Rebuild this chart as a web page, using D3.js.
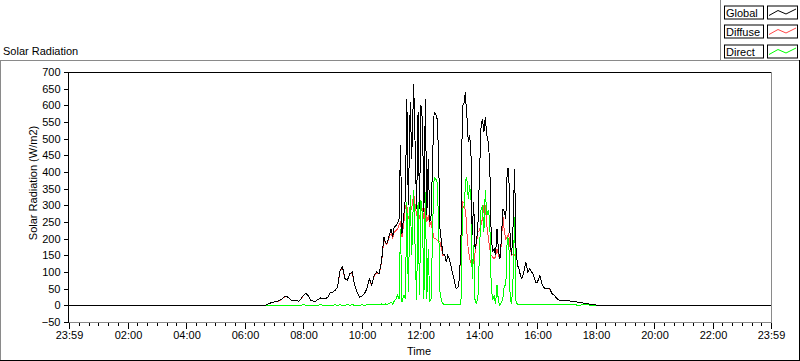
<!DOCTYPE html>
<html>
<head>
<meta charset="utf-8">
<script src="https://cdn.jsdelivr.net/npm/d3@7"></script>
<style>
  html, body { margin: 0; padding: 0; background: #fff; }
  svg text { font-family: "Liberation Sans", Arial, sans-serif; font-size: 11px; fill: #000; }
</style>
</head>
<body>
<svg id="chart" width="800" height="361"></svg>
<script>
// ---------- data ----------
const times = [
  "00:00","01:00","02:00","03:00","04:00","05:00","06:00","06:40","06:45","06:50","06:55",
  "07:00","07:05","07:10","07:15","07:20","07:25","07:30","07:35","07:40","07:45","07:50","07:55",
  "08:00","08:05","08:10","08:15","08:20","08:25","08:30","08:35","08:40","08:45","08:50","08:55",
  "09:00","09:05","09:10","09:15","09:20","09:25","09:30","09:35","09:40","09:45","09:50","09:55",
  "10:00","10:05","10:10","10:15","10:20","10:25","10:30","10:35","10:40","10:45","10:48","10:51","10:54","10:57",
  "11:00","11:03","11:06","11:10","11:13","11:16","11:19","11:22","11:26","11:29","11:32","11:35","11:39","11:42","11:46","11:49","11:52","11:55","11:58",
  "12:01","12:04","12:07","12:10","12:13","12:16","12:19","12:22","12:25","12:28","12:31","12:34","12:37","12:40","12:43","12:46","12:50","12:53","12:56","12:59",
  "13:03","13:06","13:10","13:13","13:17","13:20","13:23","13:25","13:27","13:30","13:32","13:34","13:36","13:38","13:41","13:44","13:46","13:49","13:52","13:55","13:58",
  "14:01","14:04","14:07","14:10","14:13","14:16","14:19","14:22","14:25","14:28","14:31","14:34","14:37","14:40","14:43","14:46","14:49","14:52","14:55","14:58",
  "15:01","15:04","15:07","15:10","15:13","15:16","15:19","15:22","15:25","15:28","15:32","15:36","15:40","15:44","15:48","15:52","15:56",
  "16:00","16:05","16:10","16:15","16:20","16:25","16:30","16:35","16:40","16:45","16:50","16:55",
  "17:00","17:10","17:20","17:30","17:40","17:50","18:00","18:10","19:00","20:00","21:00","22:00","23:00","23:59"
];
const globalVals = [
  -1,-1,-1,-1,-1,-1,-1,0,2,6,8,
  10,12,14,18,25,27,22,15,13,15,12,20,
  30,37,28,15,13,12,18,22,20,20,25,38,
  40,45,55,105,115,80,75,95,100,60,40,25,
  28,35,50,80,60,90,100,95,130,205,190,185,200,215,
  230,205,235,240,245,260,480,215,275,320,620,300,610,440,665,480,290,580,290,
  600,555,280,620,270,440,250,270,450,580,575,560,460,230,190,155,150,130,150,140,
  115,95,70,50,55,80,190,490,600,610,640,590,550,490,510,440,210,310,170,190,250,
  390,530,560,520,565,510,490,430,210,160,170,150,230,160,140,200,290,280,260,410,
  410,190,150,240,410,170,120,110,90,80,100,130,100,110,100,90,70,
  70,90,60,50,50,50,35,30,20,15,13,15,
  15,12,10,8,5,3,1,0,-1,-1,-1,-1,-1,-1
];
const diffuseVals = [
  -1,-1,-1,-1,-1,-1,-1,0,2,6,8,
  10,12,13,18,24,27,22,15,13,15,12,20,
  29,37,28,15,13,12,18,22,20,20,25,38,
  40,45,55,104,113,80,75,95,98,60,40,25,
  28,35,50,78,60,88,97,94,127,200,186,182,196,210,
  215,200,220,225,230,240,250,205,250,300,300,260,280,290,335,300,270,265,260,
  290,290,260,300,250,270,240,250,220,200,200,195,195,190,170,150,150,130,150,140,
  115,95,70,50,55,80,185,290,310,305,280,260,195,170,140,125,125,125,160,190,220,
  225,240,260,300,300,240,205,170,150,145,140,145,170,150,140,190,270,220,200,205,
  215,170,150,155,150,165,120,110,90,80,100,130,100,108,100,90,70,
  70,88,60,50,50,49,35,30,20,15,13,15,
  15,12,10,8,5,3,1,0,-1,-1,-1,-1,-1,-1
];
const directVals = [
  0,0,0,0,0,0,0,0,0,0,0,
  0,0,0,0,0,0,0,0,0,0,0,0,
  2,0,0,0,0,0,0,2,0,0,0,0,
  0,2,0,2,0,0,2,0,2,0,0,0,
  2,0,2,4,2,4,4,2,4,2,4,2,4,6,
  10,4,12,20,30,20,230,10,30,20,310,40,330,150,345,170,15,310,30,
  315,270,20,340,20,170,10,20,240,385,380,370,260,40,15,5,2,2,2,2,
  2,2,2,2,2,2,5,200,290,300,360,385,370,320,360,310,80,180,10,5,30,
  160,285,300,220,345,270,285,260,60,15,30,5,60,10,0,10,20,60,60,205,
  200,20,5,85,265,10,3,2,2,2,2,3,2,2,3,2,2,
  2,2,2,2,2,2,2,2,2,3,2,2,
  2,2,1,1,2,0,0,0,0,0,0,0,0,0
];
const yTicks = [-50,0,50,100,150,200,250,300,350,400,450,500,550,600,650,700];
const xTickLabels = ["23:59","02:00","04:00","06:00","08:00","10:00","12:00","14:00","16:00","18:00","20:00","22:00","23:59"];
const xTickMinutes = [-1,120,240,360,480,600,720,840,960,1080,1200,1320,1439];
const seriesNames = ["Global","Diffuse","Direct"];
const seriesColors = ["#000000","#ff4848","#00ff00"];

// ---------- drawing ----------
const svg = d3.select("#chart");
const toMin = s => { const [h, m] = s.split(":").map(Number); return h * 60 + m; };

const x = d3.scaleLinear().domain([-1, 1439]).range([69, 771]);
const y = d3.scaleLinear().domain([-50, 700]).range([322, 72]);

// outer panel frame
svg.append("line").attr("x1", 0.5).attr("x2", 0.5).attr("y1", 60.5).attr("y2", 360).attr("stroke", "#8a8a8a");
svg.append("line").attr("x1", 0).attr("x2", 800).attr("y1", 60.5).attr("y2", 60.5).attr("stroke", "#8a8a8a");
svg.append("line").attr("x1", 0).attr("x2", 800).attr("y1", 360.5).attr("y2", 360.5).attr("stroke", "#000");
svg.append("line").attr("x1", 799.5).attr("x2", 799.5).attr("y1", 60).attr("y2", 361).attr("stroke", "#000");
// legend panel edge
svg.append("line").attr("x1", 720.5).attr("x2", 720.5).attr("y1", 0).attr("y2", 61).attr("stroke", "#8a8a8a");

// title
svg.append("text").attr("x", 3).attr("y", 55).text("Solar Radiation");

// plot frame
svg.append("rect").attr("x", 69).attr("y", 72).attr("width", 702).attr("height", 250).attr("fill", "#fff");
svg.append("line").attr("x1", 771.5).attr("x2", 771.5).attr("y1", 72).attr("y2", 322.5).attr("stroke", "#8a8a8a");
svg.append("line").attr("x1", 68.5).attr("x2", 772).attr("y1", 322.5).attr("y2", 322.5).attr("stroke", "#8a8a8a");

// y axis
const yAxis = svg.append("g").attr("transform", "translate(68.5,0)")
  .call(d3.axisLeft(y).tickValues(yTicks).tickSize(5).tickPadding(3).tickSizeOuter(0));
yAxis.select(".domain").remove();
yAxis.selectAll("text").style("font-family", "'Liberation Sans', Arial, sans-serif").style("font-size", "11px");
svg.append("line").attr("x1", 68.5).attr("x2", 68.5).attr("y1", 72).attr("y2", 323).attr("stroke", "#000");
svg.append("line").attr("x1", 68).attr("x2", 771).attr("y1", 72.5).attr("y2", 72.5).attr("stroke", "#000");

// x axis: minor ticks every 20 minutes, labelled major every 2 h
const minor = d3.range(19, 1439, 20).filter(m => !xTickMinutes.some(t => Math.abs(t - m) < 2));
const xMinor = svg.append("g").attr("transform", "translate(0,322.5)")
  .call(d3.axisBottom(x).tickValues(minor).tickSize(3).tickFormat(""));
xMinor.select(".domain").remove();
const xAxis = svg.append("g").attr("transform", "translate(0,322.5)")
  .call(d3.axisBottom(x).tickValues(xTickMinutes).tickSize(6).tickPadding(3)
    .tickFormat((d, i) => xTickLabels[i]));
xAxis.select(".domain").remove();
xAxis.selectAll("text").style("font-family", "'Liberation Sans', Arial, sans-serif").style("font-size", "11px");
svg.selectAll(".tick line").attr("shape-rendering", "crispEdges");

// axis titles
svg.append("text").attr("x", 419).attr("y", 355).attr("text-anchor", "middle").text("Time");
svg.append("text").attr("transform", "translate(37,183) rotate(-90)").attr("text-anchor", "middle")
  .text("Solar Radiation (W/m2)");

// series: diffuse, direct, then global on top
const mins = times.map(toMin);
const line = d3.line().x(d => x(d[0])).y(d => y(d[1]));
svg.append("clipPath").attr("id", "clip").append("rect")
  .attr("x", 69).attr("y", 73).attr("width", 702).attr("height", 249);
const allVals = [globalVals, diffuseVals, directVals];
[1, 2, 0].forEach(i => {
  svg.append("path")
    .datum(mins.map((m, k) => [m, allVals[i][k]]))
    .attr("clip-path", "url(#clip)")
    .attr("fill", "none")
    .attr("stroke", seriesColors[i])
    .attr("stroke-width", 1)
    .attr("shape-rendering", "crispEdges")
    .attr("d", line);
});

// legend
const legTops = [5.5, 24.5, 44.5];
seriesNames.forEach((name, i) => {
  const g = svg.append("g").attr("transform", `translate(0,${legTops[i]})`);
  g.append("rect").attr("x", 724.5).attr("y", 0.5).attr("width", 39).attr("height", 13)
    .attr("fill", "#fff").attr("stroke", "#000");
  g.append("text").attr("x", 726).attr("y", 11.5).text(name);
  g.append("rect").attr("x", 767.5).attr("y", 0.5).attr("width", 30).attr("height", 13)
    .attr("fill", "#fff").attr("stroke", "#000");
  g.append("path").attr("d", "M769,10 L778,5 L786,8.5 L796,3.5")
    .attr("fill", "none").attr("stroke", seriesColors[i]).attr("stroke-width", 1);
});
</script>
</body>
</html>
